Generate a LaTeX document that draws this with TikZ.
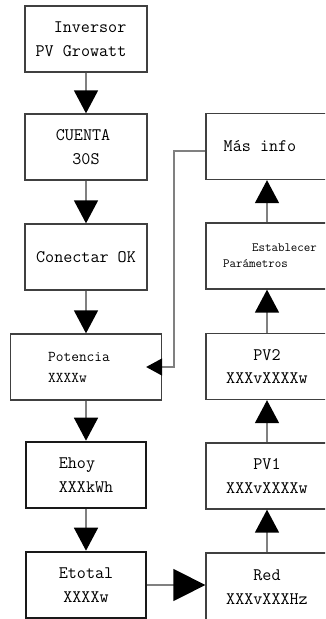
\documentclass[tikz,border=0pt]{standalone}
\usepackage{fontspec}
\usepackage{tikz}
\usetikzlibrary{arrows.meta}
\tikzset{
  screen/.style={rectangle, draw=black!75, line width=1.3pt, inner sep=0pt,
                 minimum width=122pt, minimum height=66pt, align=center,
                 font=\ttfamily\fontsize{17.6}{23.5}\selectfont},
  screenbold/.style={screen, draw=black!90, line width=2.6pt, minimum width=120pt},
  smalltext/.style={font=\ttfamily\fontsize{15}{21}\selectfont},
  tinytext/.style={font=\ttfamily\fontsize{12.6}{16}\selectfont},
  flow/.style={draw=black!50, line width=1.5pt,
               -{Triangle[width=24pt,length=23pt,color=black]}},
  flowbig/.style={flow, -{Triangle[width=32pt,length=32pt,color=black]}},
  flowback/.style={flow, -{Triangle[width=17pt,length=16pt,color=black]}},
}

\begin{document}
\begin{tikzpicture}[x=1pt,y=-1pt]
  \useasboundingbox (0,0) rectangle (325,619);
  \clip (0,0) rectangle (325,619);
  % Left column
  \node[screen, align=right] (inversor) at (86,39) {Inversor\hspace*{10pt}\\PV Growatt\hspace*{10pt}};
  \node[screen] (cuenta) at (86,147) {CUENTA\hspace*{6pt}\\30S};
  \node[screen] (conectar) at (86,257) {Conectar OK};
  \node[screen, smalltext, minimum width=151pt, align=left] (potencia) at (86,367) {Potencia\hspace*{14pt}\\XXXXw};
  \node[screenbold, align=left] (ehoy) at (86,475) {Ehoy\\XXXkWh};
  \node[screenbold] (etotal) at (86,585) {Etotal\\XXXXw};
  % Right column
  \node[screen] (masinfo) at (267,146.5) {Más info\hspace*{14pt}};
  \node[screen, tinytext, align=left] (parametros) at (267,256) {\hspace*{35pt}Establecer\\\hspace*{6pt}Parámetros};
  \node[screen] (pvdos) at (267,366.5) {PV2\\XXXvXXXXw};
  \node[screen] (pvuno) at (267,476) {PV1\\XXXvXXXXw};
  \node[screen, minimum height=68pt] (red) at (267,587) {Red\\XXXvXXXHz};
  % Arrows down and up
  \foreach \a/\b in {inversor/cuenta, cuenta/conectar, conectar/potencia,
                     potencia/ehoy, ehoy/etotal}
    \draw[flow] (\a.south) -- (\b.north);
  \foreach \a/\b in {red/pvuno, pvuno/pvdos, pvdos/parametros, parametros/masinfo}
    \draw[flow] (\a.north) -- (\b.south);
  % Etotal to Red
  \draw[flowbig] (etotal.east) -- (etotal.east -| red.west);
  % Back to Potencia
  \coordinate (jog) at (174,151);
  \draw[flowback] (masinfo.west |- jog) -- (jog) |- ([xshift=-16pt]potencia.east);
\end{tikzpicture}
\end{document}
